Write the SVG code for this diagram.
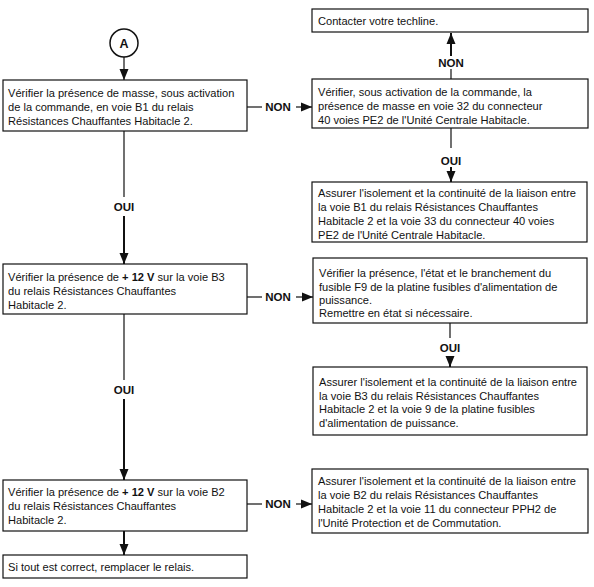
<svg xmlns="http://www.w3.org/2000/svg" width="594" height="587" viewBox="0 0 594 587">
<defs>
<style>
.box{fill:#fff;stroke:#111;stroke-width:1.2}
.t{font-family:"Liberation Sans",Arial,sans-serif;font-size:11.1px;fill:#111}
.b{font-weight:bold}
.lbl{font-family:"Liberation Sans",Arial,sans-serif;font-size:11.5px;font-weight:bold;fill:#111;text-anchor:middle}
.c{stroke:#111;stroke-width:1.2;fill:none}
.ct{stroke:#111;stroke-width:2;fill:none}
</style>
<marker id="ah" markerUnits="userSpaceOnUse" markerWidth="11" markerHeight="10" viewBox="0 0 11 10" refX="11" refY="5" orient="auto">
<path d="M0,0.5 L11,5 L0,9.5 Z" fill="#111"/>
</marker>
</defs>
<rect width="594" height="587" fill="#fff"/>
<g id="connectors">
<path class="c" d="M124,57 V80" marker-end="url(#ah)"/>
<path class="c" d="M247,107 H262"/>
<path class="c" d="M296,107 H312" marker-end="url(#ah)"/>
<path class="c" d="M451,79 V69"/>
<path class="ct" d="M451,56 V33" marker-end="url(#ah)"/>
<path class="c" d="M451,128 V148"/>
<path class="ct" d="M451,167 V182" marker-end="url(#ah)"/>
<path class="c" d="M124,131 V197"/>
<path class="ct" d="M124,216 V264" marker-end="url(#ah)"/>
<path class="c" d="M247,297 H262"/>
<path class="c" d="M296,297 H313" marker-end="url(#ah)"/>
<path class="c" d="M450,323 V338"/>
<path class="ct" d="M450,356 V367" marker-end="url(#ah)"/>
<path class="c" d="M124,314 V380"/>
<path class="ct" d="M124,399 V480" marker-end="url(#ah)"/>
<path class="c" d="M247,504 H262"/>
<path class="c" d="M296,504 H312" marker-end="url(#ah)"/>
<path class="ct" d="M124,531 V555" marker-end="url(#ah)"/>
<text class="lbl" x="278" y="111">NON</text>
<text class="lbl" x="451" y="67">NON</text>
<text class="lbl" x="451" y="165">OUI</text>
<text class="lbl" x="124" y="211">OUI</text>
<text class="lbl" x="278" y="301">NON</text>
<text class="lbl" x="450" y="352">OUI</text>
<text class="lbl" x="124" y="394">OUI</text>
<text class="lbl" x="278" y="508">NON</text>
</g>
<g id="nodeA">
<circle cx="124" cy="43" r="14" fill="#fff" stroke="#111" stroke-width="1.5"/>
<text class="lbl" x="124" y="47.5" style="font-size:12.5px">A</text>
</g>
<g id="box1">
<rect class="box" x="3" y="80" width="244" height="51"/>
<text class="t" x="8" y="97">Vérifier la présence de masse, sous activation</text>
<text class="t" x="8" y="111">de la commande, en voie B1 du relais</text>
<text class="t" x="8" y="125">Résistances Chauffantes Habitacle 2.</text>
</g>
<g id="box2">
<rect class="box" x="312" y="79" width="276" height="49"/>
<text class="t" x="318" y="96">Vérifier, sous activation de la commande, la</text>
<text class="t" x="318" y="110">présence de masse en voie 32 du connecteur</text>
<text class="t" x="318" y="124">40 voies PE2 de l'Unité Centrale Habitacle.</text>
</g>
<g id="boxTech">
<rect class="box" x="312" y="9" width="276" height="23"/>
<text class="t" x="318" y="25">Contacter votre techline.</text>
</g>
<g id="box3">
<rect class="box" x="312" y="182" width="275" height="60"/>
<text class="t" x="318" y="197">Assurer l'isolement et la continuité de la liaison entre</text>
<text class="t" x="318" y="211">la voie B1 du relais Résistances Chauffantes</text>
<text class="t" x="318" y="225">Habitacle 2 et la voie 33 du connecteur 40 voies</text>
<text class="t" x="318" y="239">PE2 de l'Unité Centrale Habitacle.</text>
</g>
<g id="box4">
<rect class="box" x="3" y="264" width="244" height="50"/>
<text class="t" x="8" y="281">Vérifier la présence de <tspan class="b">+ 12 V</tspan> sur la voie B3</text>
<text class="t" x="8" y="295">du relais Résistances Chauffantes</text>
<text class="t" x="8" y="309">Habitacle 2.</text>
</g>
<g id="box5">
<rect class="box" x="313" y="258" width="274" height="65"/>
<text class="t" x="319" y="277">Vérifier la présence, l'état et le branchement du</text>
<text class="t" x="319" y="291">fusible F9 de la platine fusibles d'alimentation de</text>
<text class="t" x="319" y="304">puissance.</text>
<text class="t" x="319" y="317">Remettre en état si nécessaire.</text>
</g>
<g id="box6">
<rect class="box" x="313" y="367" width="274" height="68"/>
<text class="t" x="319" y="386">Assurer l'isolement et la continuité de la liaison entre</text>
<text class="t" x="319" y="400">la voie B3 du relais Résistances Chauffantes</text>
<text class="t" x="319" y="413">Habitacle 2 et la voie 9 de la platine fusibles</text>
<text class="t" x="319" y="427">d'alimentation de puissance.</text>
</g>
<g id="box7">
<rect class="box" x="3" y="480" width="244" height="51"/>
<text class="t" x="8" y="496">Vérifier la présence de <tspan class="b">+ 12 V</tspan> sur la voie B2</text>
<text class="t" x="8" y="510">du relais Résistances Chauffantes</text>
<text class="t" x="8" y="524">Habitacle 2.</text>
</g>
<g id="box8">
<rect class="box" x="3" y="555" width="244" height="23"/>
<text class="t" x="8" y="571">Si tout est correct, remplacer le relais.</text>
</g>
<g id="box9">
<rect class="box" x="312" y="469" width="276" height="64"/>
<text class="t" x="318" y="485">Assurer l'isolement et la continuité de la liaison entre</text>
<text class="t" x="318" y="499">la voie B2 du relais Résistances Chauffantes</text>
<text class="t" x="318" y="513">Habitacle 2 et la voie 11 du connecteur PPH2 de</text>
<text class="t" x="318" y="527">l'Unité Protection et de Commutation.</text>
</g>
</svg>
